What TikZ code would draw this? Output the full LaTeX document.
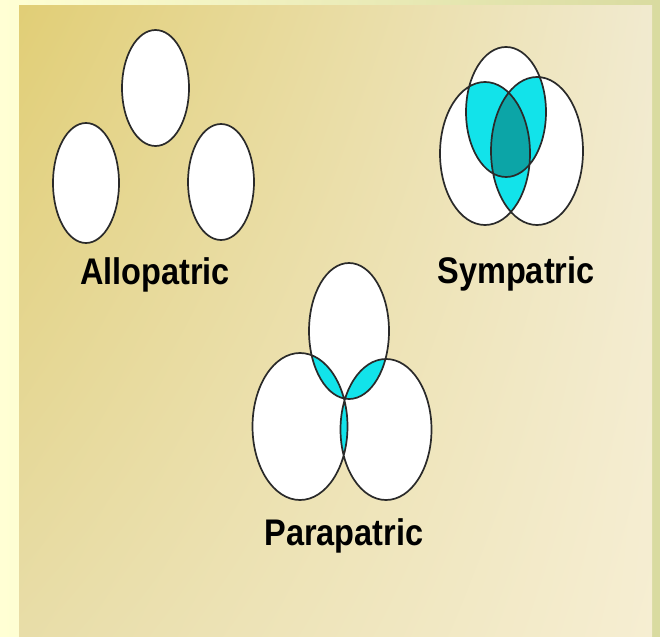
\documentclass[tikz,border=0pt]{standalone}
\usepackage{fontspec}
\setmainfont{Liberation Sans}
\usetikzlibrary{positioning,shadings}
\definecolor{frameyellow}{HTML}{FFFFD4}
\definecolor{framegreen}{HTML}{D9DBA0}
\definecolor{panelul}{HTML}{E1CE76}
\definecolor{panelur}{HTML}{F1EACF}
\definecolor{panelll}{HTML}{E8DDA8}
\definecolor{panellr}{HTML}{F6EED2}
\definecolor{venncyan}{HTML}{12E3EA}
\definecolor{vennteal}{HTML}{0CA5A7}
\definecolor{vennline}{HTML}{2A2A2A}
\newcommand{\alloTop}{(155.5,88) ellipse [x radius=33.5,y radius=58]}
\newcommand{\alloLeft}{(86,183) ellipse [x radius=33,y radius=60]}
\newcommand{\alloRight}{(221,182) ellipse [x radius=33,y radius=58]}
\newcommand{\symTop}{(506,112) ellipse [x radius=40,y radius=65]}
\newcommand{\symLeft}{(485,153.5) ellipse [x radius=45,y radius=71.5]}
\newcommand{\symRight}{(537,151) ellipse [x radius=46,y radius=74]}
\newcommand{\paraTop}{(349,331) ellipse [x radius=40,y radius=68]}
\newcommand{\paraLeft}{(300,426.5) ellipse [x radius=47.5,y radius=73.5]}
\newcommand{\paraRight}{(386,429.5) ellipse [x radius=45.5,y radius=70.5]}
\begin{document}
\begin{tikzpicture}[x=1pt,y=-1pt,
  rim/.style={draw=vennline,line width=1.7pt},
  label/.style={anchor=base,inner sep=0pt,font=\bfseries\fontsize{32.5}{38}\selectfont}]
\shade[left color=frameyellow,right color=framegreen] (0,0) rectangle (660,636);
\shade[upper left=panelul,upper right=panelur,lower left=panelll,lower right=panellr] (19,6) rectangle (652,636);
\useasboundingbox (0,0) rectangle (660,636);
\fill[white] \alloTop \alloLeft \alloRight;
\fill[white] \symTop \symLeft \symRight;
\fill[white] \paraTop \paraLeft \paraRight;
\begin{scope}\clip \symTop;\fill[venncyan] \symLeft;\fill[venncyan] \symRight;\end{scope}
\begin{scope}\clip \symLeft;\fill[venncyan] \symRight;\end{scope}
\begin{scope}\clip \symTop;\clip \symLeft;\fill[vennteal] \symRight;\end{scope}
\begin{scope}\clip \paraTop;\fill[venncyan] \paraLeft;\fill[venncyan] \paraRight;\end{scope}
\begin{scope}\clip \paraLeft;\fill[venncyan] \paraRight;\end{scope}
\draw[rim] \alloTop \alloLeft \alloRight;
\draw[rim] \symTop \symLeft \symRight;
\draw[rim] \paraTop \paraLeft \paraRight;
\node[label] (allo) at (155,284) {\scalebox{1}[1.14]{Allopatric}};
\node[label] (sym) at (516,283) {\scalebox{1}[1.14]{Sympatric}};
\node[label] (para) at (344,545) {\scalebox{1}[1.14]{Parapatric}};
\end{tikzpicture}
\end{document}
